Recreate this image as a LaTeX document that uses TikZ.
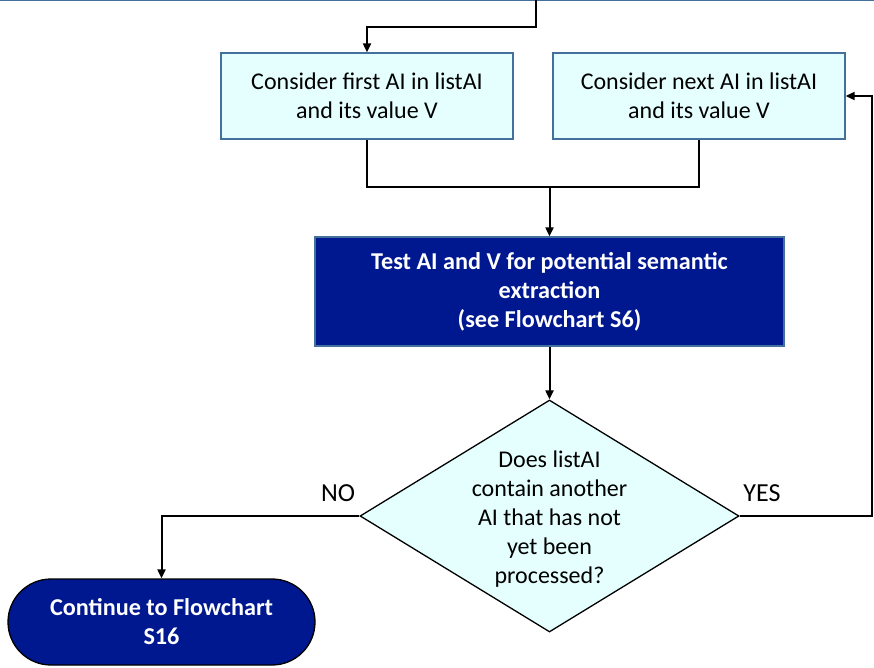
\documentclass[tikz,border=0pt]{standalone}
\usepackage{fontspec}
\setmainfont{Carlito}
\usetikzlibrary{arrows.meta,shapes.geometric}
\definecolor{lightc}{RGB}{229,255,255}
\definecolor{navyb}{RGB}{0,24,143}
\definecolor{edgeb}{RGB}{65,113,156}
\begin{document}
\begin{tikzpicture}[x=1pt,y=-1pt,
  every node/.style={font=\fontsize{24}{29}\selectfont, align=center},
  procbox/.style={draw=edgeb, line width=1.3pt, fill=lightc, minimum width=292pt, minimum height=86pt, inner sep=0pt},
  bigbox/.style={draw=edgeb, line width=1.3pt, fill=navyb, text=white, font=\fontsize{24.2}{29}\selectfont\bfseries, minimum width=469pt, minimum height=109pt, inner sep=0pt},
  decbox/.style={shape=diamond, draw=black, line width=1.3pt, fill=lightc, minimum width=379pt, minimum height=232pt, inner sep=0pt},
  termbox/.style={draw=black, line width=1.3pt, fill=navyb, text=white, font=\fontsize{24.2}{29}\selectfont\bfseries, minimum width=307pt, minimum height=86pt, inner sep=0pt, rounded corners=43pt},
  conn/.style={draw=black, line width=2pt},
  arr/.style={conn, -{Triangle[length=9pt,width=8pt]}},
  lbl/.style={font=\fontsize{26}{29}\selectfont}]
\useasboundingbox (0,0) rectangle (874,668);
\draw[edgeb, line width=1.5pt] (0,0.6) -- (874,0.6);

\node[procbox] (box1) at (367,96) {Consider first AI in listAI\\and its value V};
\node[procbox] (box2) at (699,96) {Consider next AI in listAI\\and its value V};
\node[bigbox] (box3) at (549.5,291.5) {Test AI and V for potential semantic\\extraction\\(see Flowchart S6)};
\node[decbox] (dec) at (549.5,516) {};
\node (dtext) at (549.5,519) {Does listAI\\contain another\\AI that has not\\yet been\\processed?};
\node[termbox] (term) at (161.5,622) {Continue to Flowchart\\S16};

\coordinate (top) at (536,0);
\coordinate (join) at (549.5,187);

\draw[arr] (top) -- ++(0,27) -| (box1.north);
\draw[conn] (box1.south) |- (join) -| (box2.south);
\draw[arr] (join) -- (box3.north);
\draw[arr] (box3.south) -- (dec.north);
\draw[arr] (dec.west) -| (term.north);
\draw[arr] (dec.east) -- ++(132,0) |- (box2.east);

\node[lbl] (no) at (338,493) {NO};
\node[lbl] (yes) at (762,493) {YES};
\end{tikzpicture}
\end{document}
